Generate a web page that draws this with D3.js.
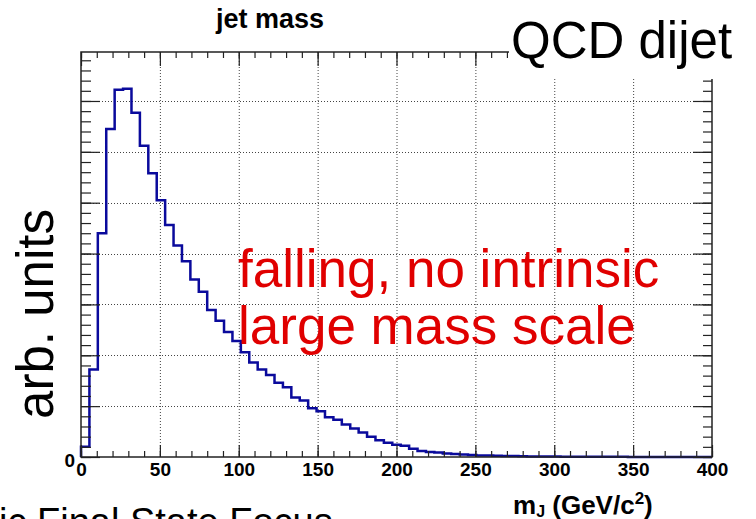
<!DOCTYPE html>
<html>
<head>
<meta charset="utf-8">
<script src="https://cdn.jsdelivr.net/npm/d3@7"></script>
<style>
  html, body { margin: 0; padding: 0; background: #fff; overflow: hidden; }
  svg { display: block; font-family: "Liberation Sans", Arial, sans-serif; }
</style>
</head>
<body>
<svg id="chart"></svg>
<script>
// jet mass histogram, 75 bins from 0 to 400 GeV/c^2 (arbitrary units)
const massRange = [0, 400];
const binCounts = [
  0.20, 1.72, 4.40, 6.45, 7.22, 7.24, 6.77, 6.12, 5.58, 5.05,
  4.56, 4.16, 3.85, 3.49, 3.25, 2.89, 2.68, 2.46, 2.28, 2.06,
  1.86, 1.72, 1.61, 1.46, 1.37, 1.17, 1.11, 0.96, 0.90, 0.78,
  0.73, 0.64, 0.56, 0.48, 0.40, 0.33, 0.28, 0.24, 0.22, 0.16,
  0.12, 0.10, 0.09, 0.07, 0.06, 0.05, 0.04, 0.03, 0.03, 0.026,
  0.020, 0.018, 0.016, 0.012, 0.011, 0.010, 0.009, 0.007, 0.006, 0.006,
  0.005, 0.004, 0.004, 0.003, 0.003, 0.002, 0.002, 0.002, 0.001, 0.001,
  0.001, 0.001, 0, 0, 0
];
const xMajorTicks = [0, 50, 100, 150, 200, 250, 300, 350, 400];
const xMinorTicks = d3.range(0, 401, 10);
const yMajorTicks = [0, 1, 2, 3, 4, 5, 6, 7];
const yMinorTicks = d3.range(0, 7.96, 0.2);
const yMax = 7.963;

const titleText = "jet mass";
const xTitleMain = "m";
const xTitleSub = "J";
const xTitleRest = " (GeV/c";
const yTitleText = "arb. units";
const cornerText = "QCD dijet";
const noteLines = ["falling, no intrinsic", "large mass scale"];
const footerText = "ic Final State Focus";

const JetMassChart = (function() {
  const config = {
    width: 756,
    height: 519,
    margin: { top: 52, right: 44, bottom: 62, left: 81 },
    lineColor: "#0a0a9c",
    noteColor: "#e00000",
    gridColor: "#444",
    axisColor: "#222"
  };

  function render(id) {
    const { width, height, margin } = config;
    const svg = d3.select(id).attr("width", width).attr("height", height);

    const x = d3.scaleLinear().domain(massRange).range([margin.left, width - margin.right]);
    const y = d3.scaleLinear().domain([0, yMax]).range([height - margin.bottom, margin.top]);

    drawGrid(svg, x, y);
    drawHistogram(svg, x, y);
    drawAxes(svg, x, y);
    drawTexts(svg, x, y);
  }

  function drawGrid(svg, x, y) {
    const g = svg.append("g")
      .attr("stroke", config.gridColor)
      .attr("stroke-width", 1)
      .attr("stroke-dasharray", "1,2");
    g.selectAll(".vgrid")
      .data(xMajorTicks.slice(1, -1))
      .enter().append("line")
      .attr("x1", d => x(d) + 0.5).attr("x2", d => x(d) + 0.5)
      .attr("y1", y.range()[1]).attr("y2", y.range()[0]);
    g.selectAll(".hgrid")
      .data(yMajorTicks.slice(1))
      .enter().append("line")
      .attr("y1", d => Math.round(y(d)) + 0.5).attr("y2", d => Math.round(y(d)) + 0.5)
      .attr("x1", x.range()[0]).attr("x2", x.range()[1]);
  }

  function drawHistogram(svg, x, y) {
    const binWidth = (massRange[1] - massRange[0]) / binCounts.length;
    const pts = [[massRange[0], 0]];
    binCounts.forEach((v, i) => pts.push([massRange[0] + i * binWidth, v]));
    pts.push([massRange[1], binCounts[binCounts.length - 1]]);
    pts.push([massRange[1], 0]);

    const line = d3.line()
      .x(d => x(d[0]))
      .y(d => y(d[1]))
      .curve(d3.curveStepAfter);

    svg.append("path")
      .datum(pts)
      .attr("d", line)
      .attr("fill", "none")
      .attr("stroke", config.lineColor)
      .attr("stroke-width", 2.5);
  }

  function styleAxis(g) {
    g.select(".domain").remove();
    g.selectAll("line").attr("stroke", config.axisColor).attr("stroke-width", 1.2);
  }

  function drawAxes(svg, x, y) {
    const [x0, x1] = x.range();
    const [yb, yt] = y.range();

    // bottom
    svg.append("g").attr("transform", `translate(0,${yb})`)
      .call(d3.axisBottom(x).tickValues(xMinorTicks).tickSize(-6).tickFormat(""))
      .call(styleAxis);
    svg.append("g").attr("transform", `translate(0,${yb})`)
      .call(d3.axisBottom(x).tickValues(xMajorTicks).tickSize(-12).tickPadding(6))
      .call(styleAxis)
      .call(g => g.selectAll("text")
        .attr("fill", "#000")
        .style("font-size", "19px")
        .style("font-weight", "bold")
        .style("font-family", "'Liberation Sans', Arial, sans-serif"));

    // top
    svg.append("g").attr("transform", `translate(0,${yt})`)
      .call(d3.axisTop(x).tickValues(xMinorTicks).tickSize(-6).tickFormat(""))
      .call(styleAxis);
    svg.append("g").attr("transform", `translate(0,${yt})`)
      .call(d3.axisTop(x).tickValues(xMajorTicks).tickSize(-14).tickFormat(""))
      .call(styleAxis);

    // left
    svg.append("g").attr("transform", `translate(${x0},0)`)
      .call(d3.axisLeft(y).tickValues(yMinorTicks).tickSize(-10).tickFormat(""))
      .call(styleAxis);
    svg.append("g").attr("transform", `translate(${x0},0)`)
      .call(d3.axisLeft(y).tickValues(yMajorTicks).tickSize(-19).tickPadding(6)
        .tickFormat(d => d === 0 ? "0" : ""))
      .call(styleAxis)
      .call(g => g.selectAll("text")
        .attr("fill", "#000")
        .attr("dy", "0.5em")
        .style("font-size", "19px")
        .style("font-weight", "bold")
        .style("font-family", "'Liberation Sans', Arial, sans-serif"));

    // right
    svg.append("g").attr("transform", `translate(${x1},0)`)
      .call(d3.axisRight(y).tickValues(yMinorTicks).tickSize(-9).tickFormat(""))
      .call(styleAxis);
    svg.append("g").attr("transform", `translate(${x1},0)`)
      .call(d3.axisRight(y).tickValues(yMajorTicks).tickSize(-19).tickFormat(""))
      .call(styleAxis);

    // frame
    svg.append("rect")
      .attr("x", x0).attr("y", yt)
      .attr("width", x1 - x0).attr("height", yb - yt)
      .attr("fill", "none")
      .attr("stroke", config.axisColor)
      .attr("stroke-width", 1.5);
  }

  function drawTexts(svg, x, y) {
    svg.append("text")
      .attr("x", 270).attr("y", 28)
      .attr("text-anchor", "middle")
      .style("font-size", "27px").style("font-weight", "bold")
      .text(titleText);

    const xt = svg.append("text")
      .attr("x", 513).attr("y", 514)
      .style("font-size", "26px").style("font-weight", "bold");
    xt.append("tspan").text(xTitleMain);
    xt.append("tspan").attr("dy", 3).style("font-size", "16px").text(xTitleSub);
    xt.append("tspan").attr("dy", -3).text(xTitleRest);
    xt.append("tspan").attr("dy", -10).style("font-size", "17px").text("2");
    xt.append("tspan").attr("dy", 10).text(")");

    svg.append("text")
      .attr("transform", "translate(53,314) rotate(-90)")
      .attr("text-anchor", "middle")
      .style("font-size", "51px")
      .text(yTitleText);

    // white box behind the corner label
    svg.append("rect")
      .attr("x", 509).attr("y", 0)
      .attr("width", 247).attr("height", 79)
      .attr("fill", "#fff");
    svg.append("text")
      .attr("x", 511).attr("y", 58)
      .style("font-size", "51px")
      .text(cornerText);

    svg.selectAll(".note")
      .data(noteLines)
      .enter().append("text")
      .attr("x", 238)
      .attr("y", (d, i) => 286.5 + i * 57)
      .attr("fill", config.noteColor)
      .style("font-size", "53px")
      .text(d => d);

    svg.append("text")
      .attr("x", -1).attr("y", 535)
      .style("font-size", "38px")
      .text(footerText);
  }

  return { render: render };
})();

JetMassChart.render("#chart");
</script>
</body>
</html>
